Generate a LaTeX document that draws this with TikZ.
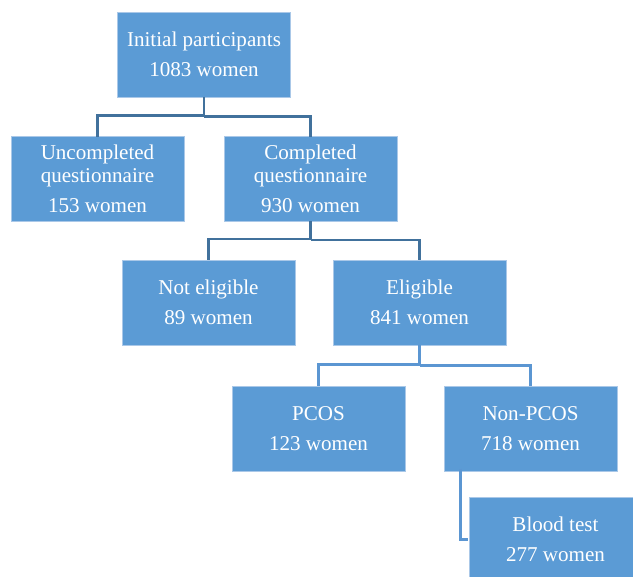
\documentclass[tikz,border=0pt]{standalone}
\usepackage{fontspec}
\setmainfont{Liberation Serif}
\definecolor{boxblue}{RGB}{91,155,213}
\definecolor{boxedge}{RGB}{170,200,232}
\definecolor{linkdark}{RGB}{65,113,156}
\definecolor{linklight}{RGB}{91,150,210}
\tikzset{
  box/.style={rectangle, fill=boxblue, draw=boxedge, line width=0.6pt,
    minimum width=129.75pt, minimum height=63.75pt, inner sep=0pt,
    align=center, text=white, font=\fontsize{15.8}{22.5}\selectfont},
  link/.style={draw=linkdark, line width=1.7pt},
  linkb/.style={draw=linklight, line width=1.7pt}
}
\begin{document}
\begin{tikzpicture}[x=0.75pt,y=0.75pt,yscale=-1,xscale=1]
\useasboundingbox (0,0) rectangle (633,577);

% Text Node
\node [box] (init) at (204,54.5) {Initial participants\\1083 women};
% Text Node
\node [box] (uncompl) at (97.5,179) {Uncompleted\\[-5pt]questionnaire\\153 women};
% Text Node
\node [box] (compl) at (310.5,179) {Completed\\[-5pt]questionnaire\\930 women};
% Text Node
\node [box] (noteli) at (208.5,302.5) {Not eligible\\89 women};
% Text Node
\node [box] (eli) at (419.5,302.5) {Eligible\\841 women};
% Text Node
\node [box] (pcos) at (318.5,428.5) {PCOS\\123 women};
% Text Node
\node [box] (nonpcos) at (530.5,428.5) {Non-PCOS\\718 women};
% Text Node
\node [box] (blood) at (555.5,539.5) {Blood test\\277 women};

%Straight Lines
\draw [link] ([yshift=-0.6pt]init.south) -- ++(0,19) -| ([yshift=0.6pt]uncompl.north);
\draw [link] (init.south) ++(0,19) -| ([yshift=0.6pt]compl.north);
%Straight Lines
\draw [link] ([yshift=-0.6pt]compl.south) -- ++(0,18) -| ([yshift=0.6pt]noteli.north);
\draw [link] (compl.south) ++(0,18) -| ([yshift=0.6pt]eli.north);
%Straight Lines
\draw [linkb] ([yshift=-0.6pt]eli.south) -- ++(0,20) -| ([yshift=0.6pt]pcos.north);
\draw [linkb] (eli.south) ++(0,20) -| ([yshift=0.6pt]nonpcos.north);
%Straight Lines
\draw [linkb] ([xshift=12.75pt,yshift=-2pt]nonpcos.south west) |- ([xshift=-0.6pt]blood.west);

\end{tikzpicture}
\end{document}
